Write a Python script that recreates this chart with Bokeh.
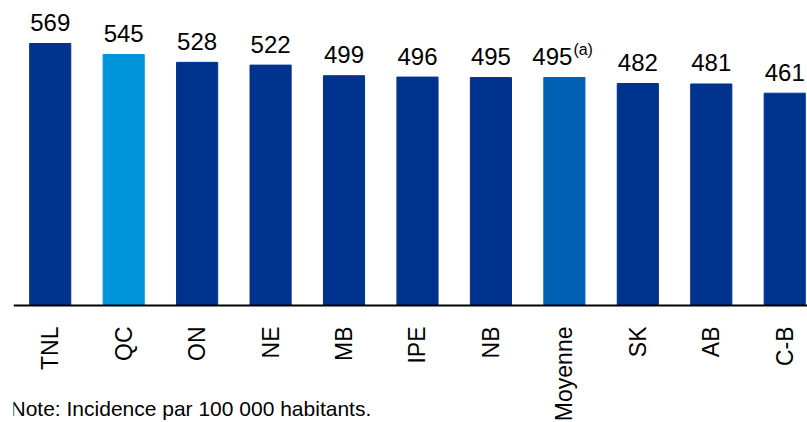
import math
from bokeh.plotting import figure
from bokeh.models import ColumnDataSource, Range1d, FixedTicker
from bokeh.core.properties import value
from bokeh.embed import file_html
from bokeh.resources import INLINE

categories = ["TNL", "QC", "ON", "NE", "MB", "IPE", "NB", "Moyenne", "SK", "AB", "C-B"]
values = [569, 545, 528, 522, 499, 496, 495, 495, 482, 481, 461]
value_labels = ["569", "545", "528", "522", "499", "496", "495", "495", "482", "481", "461"]
note_text = "Note: Incidence par 100 000 habitants."
footnote_mark = "(a)"

DARK = "#00338D"
LIGHT = "#0095DA"
MID = "#0061B4"
colors = [LIGHT if c == "QC" else MID if c == "Moyenne" else DARK for c in categories]
label_offsets = [-12 if c == "Moyenne" else 0 for c in categories]
xs = list(range(len(categories)))

src = ColumnDataSource(dict(x=xs, top=values, color=colors, lab=value_labels, xo=label_offsets))

PX = 0.4605  # pixels per unit
p = figure(width=807, height=422, output_backend="svg", toolbar_location=None,
           x_range=Range1d(-0.5, 10.31), y_range=Range1d(-117 / PX, 305 / PX),
           min_border_left=13, min_border_right=0, min_border_top=0, min_border_bottom=0)

p.vbar(x="x", top="top", bottom=0, width=0.56, color="color", source=src)
p.text(x="x", y="top", text="lab", x_offset="xo", y_offset=-12.5, source=src,
       text_align="center", text_baseline="bottom",
       text_font=value("Liberation Sans"), text_font_size="24px", text_color="#000000")

mi = categories.index("Moyenne")
p.text(x=[xs[mi]], y=[values[mi]], text=[footnote_mark], x_offset=9, y_offset=-19.5,
       text_align="left", text_baseline="bottom",
       text_font=value("Liberation Sans"), text_font_size="16px", text_color="#000000")

# note under the chart
p.text(x=[-0.5], y=[-103 / PX], text=[note_text], x_offset=-3,
       text_align="left", text_baseline="alphabetic",
       text_font=value("Liberation Sans"), text_font_size="21px", text_color="#000000")

p.yaxis.visible = False
p.xgrid.visible = False
p.ygrid.visible = False
p.outline_line_color = None
p.background_fill_color = "white"
p.border_fill_color = "white"

ax = p.xaxis[0]
ax.fixed_location = 0
ax.ticker = FixedTicker(ticks=xs)
ax.major_label_overrides = {i: c for i, c in enumerate(categories)}
ax.major_label_orientation = math.pi / 2
ax.major_label_text_font = "Liberation Sans"
ax.major_label_text_font_size = "23px"
ax.major_label_text_color = "#000000"
ax.major_label_standoff = 15
ax.major_tick_line_color = None
ax.minor_tick_line_color = None
ax.axis_line_width = 2
ax.axis_line_color = "#000000"

open("out.html", "w").write(file_html(p, INLINE))
